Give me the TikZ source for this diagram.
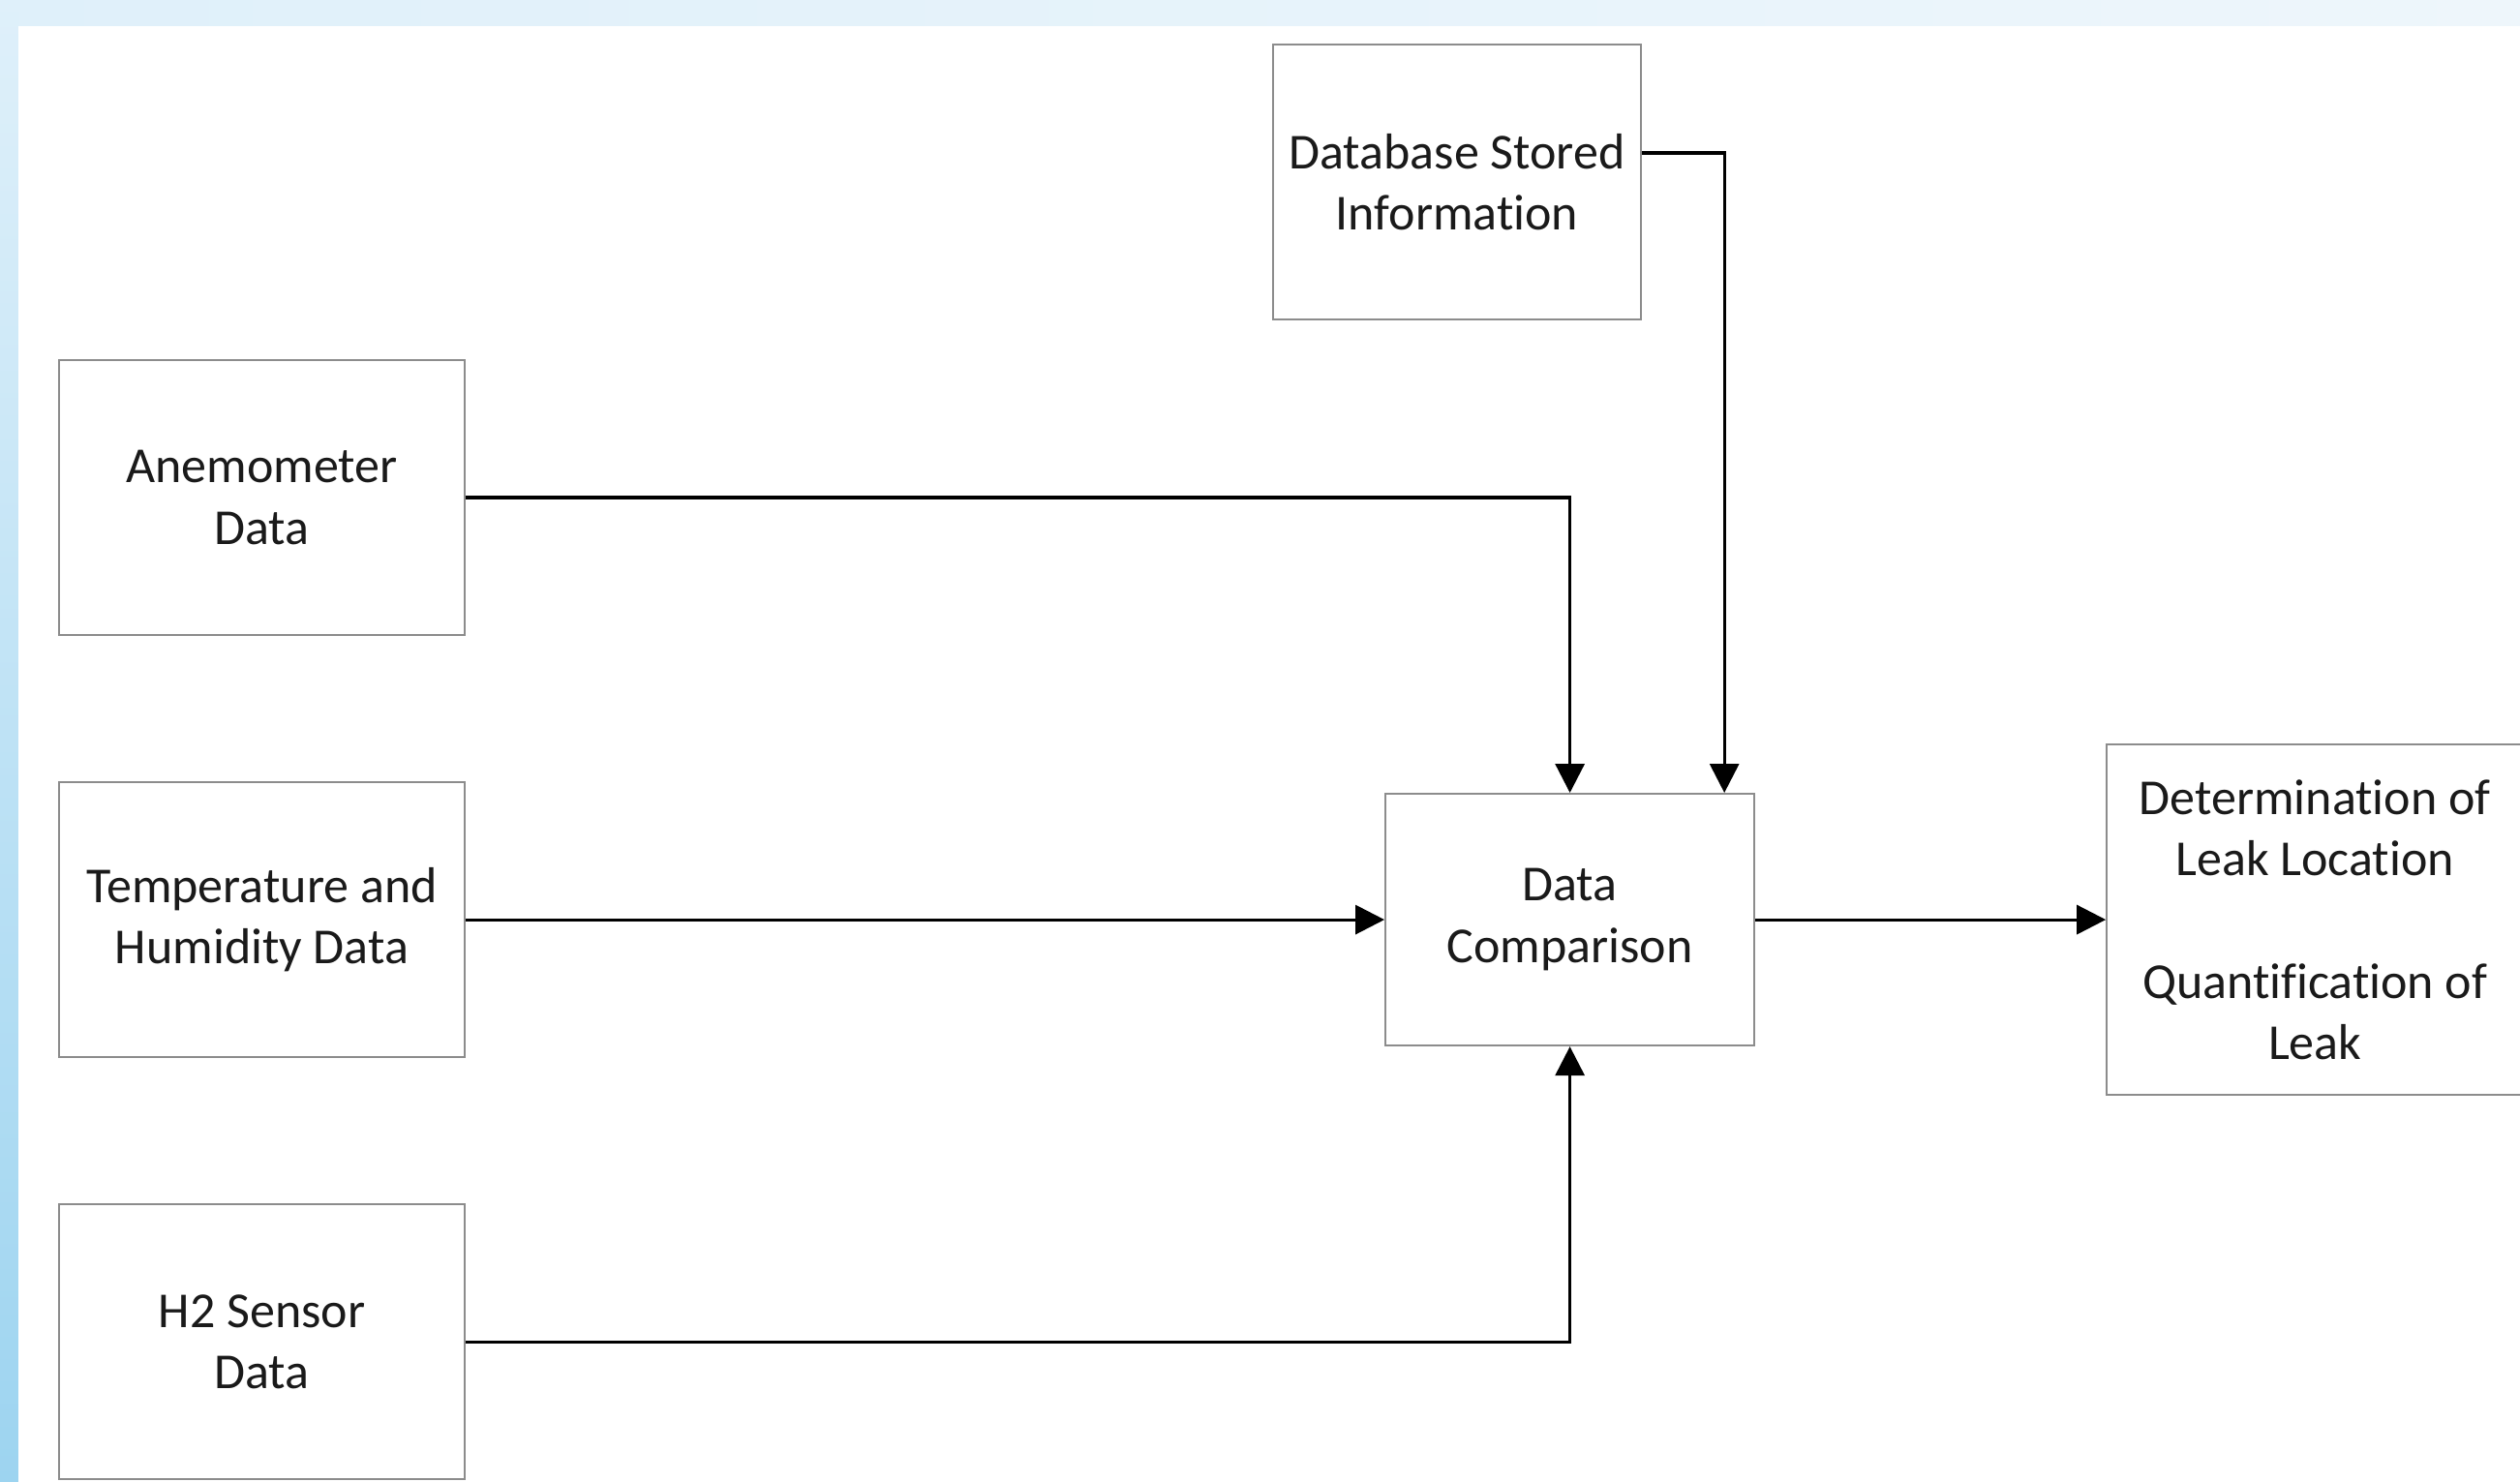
\documentclass[tikz,border=0pt]{standalone}
\usepackage{fontspec}
\setmainfont{Carlito}[Ligatures=NoCommon]
\usepackage{xcolor}
\usepackage{tikz}
\usetikzlibrary{positioning,arrows.meta}
\definecolor{leakframe}{HTML}{8C8C8C}
\definecolor{leakink}{HTML}{1A1A1A}
\definecolor{leakskyA}{HTML}{DFF0FA}
\definecolor{leakskyB}{HTML}{EEF6FB}
\definecolor{leakskyC}{HTML}{9DD4F0}
\tikzset{
    leakbox/.style={draw=leakframe, line width=0.6pt, rectangle, align=center, fill=white, text=leakink,
        font=\fontsize{14.8}{18}\selectfont, inner sep=2pt, minimum width=4.19cm, minimum height=2.84cm},
    leakarrow/.style={draw, -{Triangle[length=3mm, width=3mm]}, line width=0.9pt},
    leakline/.style={draw, line width=0.9pt}
}

\begin{document}
\begin{tikzpicture}[node distance=1.50cm and 9.49cm]
    \useasboundingbox (0,0) rectangle (26.03,15.31);
    % backdrop
    \shade[left color=leakskyA, right color=leakskyB] (0,15.04) rectangle (26.03,15.31);
    \shade[top color=leakskyA, bottom color=leakskyC] (0,0) rectangle (0.19,15.31);
    \fill[white] (0.19,0) rectangle (26.03,15.04);

    \node[leakbox] (anemo) at (2.705,10.17) {Anemometer\\Data};
    \node[leakbox, below=of anemo] (temphum) {Temperature and\\Humidity Data};
    \node[leakbox, below=of temphum] (htwo) {H2 Sensor\\Data};
    \node[leakbox, right=of temphum, minimum width=3.81cm, minimum height=2.60cm] (compare) {Data\\Comparison};
    \node[leakbox, minimum width=3.80cm] (dbase) at (15.05,13.43) {Database Stored\\Information};
    \node[leakbox, right=3.62cm of compare, minimum width=4.30cm, minimum height=3.62cm] (result)
        {Determination of\\Leak Location\\[18pt]Quantification of\\Leak};

    \coordinate (dbout) at ([yshift=3mm]dbase.east);
    \coordinate (dbin) at ([xshift=-3.2mm]compare.north east);
    \draw[leakarrow] (anemo.east) -| (compare.north);
    \draw[leakarrow] (dbout) -| (dbin);
    \draw[leakarrow] (temphum) -- (compare);
    \draw[leakarrow] (htwo.east) -| (compare.south);
    \draw[leakarrow] (compare) -- (result);
\end{tikzpicture}
\end{document}
